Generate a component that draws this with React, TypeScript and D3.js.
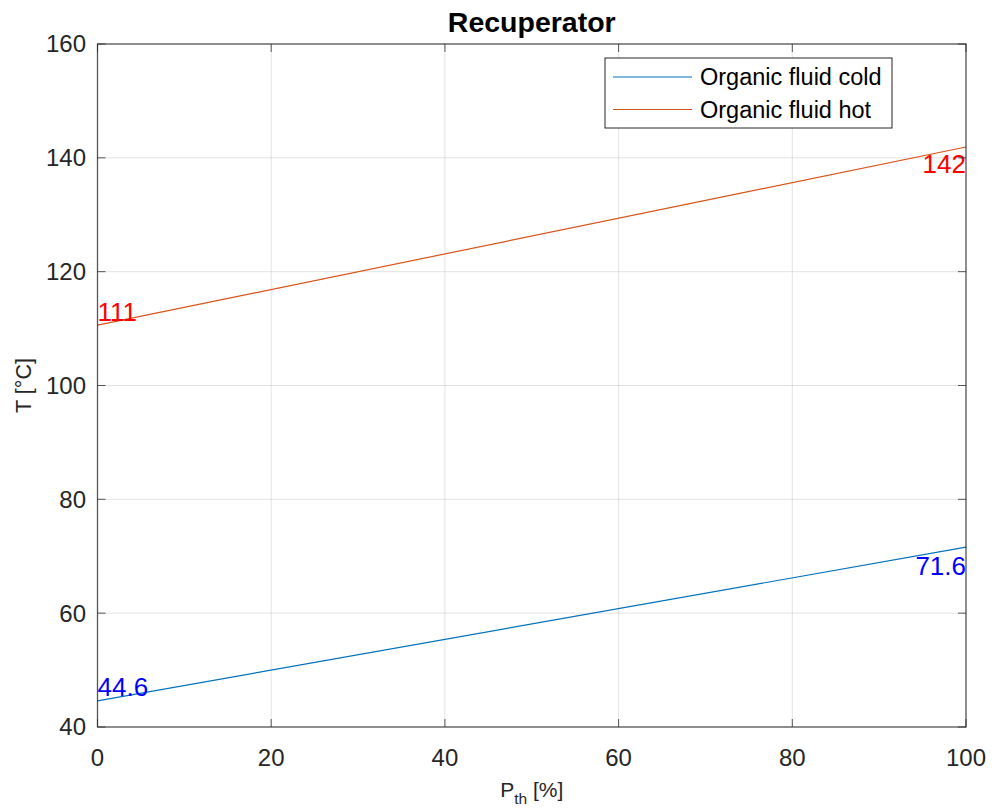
import React from "react";
import * as d3 from "d3";

const xValues = [0, 100];
const coldValues = [44.6, 71.6];
const hotValues = [110.6, 141.9];
const coldLabels = ["44.6", "71.6"];
const hotLabels = ["111", "142"];
const coldLabelY = [47.1, 68.3];
const hotLabelY = [112.9, 138.9];
const xTicks = [0, 20, 40, 60, 80, 100];
const yTicks = [40, 60, 80, 100, 120, 140, 160];
const seriesNames = ["Organic fluid cold", "Organic fluid hot"];

const W = 995, H = 811;
const L = 97.5, R = 966, T = 44, B = 727;
const FONT = "Arial, 'Liberation Sans', Helvetica, sans-serif";
const COLD = "#0072BD", HOT = "#D95319";
const AX = "#262626";

export default function App() {
  const x = d3.scaleLinear().domain([0, 100]).range([L, R]);
  const y = d3.scaleLinear().domain([40, 160]).range([B, T]);
  const line = d3.line<number>().x((_, i) => x(xValues[i])).y((d) => y(d));
  const tick = 8;
  return (
    <svg width={W} height={H} style={{ position: "absolute", left: 0, top: 0, background: "#fff" }}>
      <rect x={0} y={0} width={W} height={H} fill="#fff" />
      {/* grid */}
      {xTicks.map((t) => (
        <line key={"gx" + t} x1={x(t)} x2={x(t)} y1={T} y2={B} stroke="#262626" strokeOpacity={0.13} strokeWidth={1} />
      ))}
      {yTicks.map((t) => (
        <line key={"gy" + t} x1={L} x2={R} y1={y(t)} y2={y(t)} stroke="#262626" strokeOpacity={0.13} strokeWidth={1} />
      ))}
      {/* lines */}
      <path d={line(coldValues) || ""} fill="none" stroke={COLD} strokeWidth={1.2} />
      <path d={line(hotValues) || ""} fill="none" stroke={HOT} strokeWidth={1.2} />
      {/* data labels */}
      <g fontFamily={FONT} fontSize={26} dominantBaseline="central">
        <text x={x(xValues[0])} y={y(coldLabelY[0])} fill="#0000ff" textAnchor="start">{coldLabels[0]}</text>
        <text x={x(xValues[1])} y={y(coldLabelY[1])} fill="#0000ff" textAnchor="end">{coldLabels[1]}</text>
        <text x={x(xValues[0])} y={y(hotLabelY[0])} fill="#ff0000" textAnchor="start">{hotLabels[0]}</text>
        <text x={x(xValues[1])} y={y(hotLabelY[1])} fill="#ff0000" textAnchor="end">{hotLabels[1]}</text>
      </g>
      {/* ticks */}
      {xTicks.map((t) => (
        <g key={"tx" + t}>
          <line x1={x(t)} x2={x(t)} y1={B} y2={B - tick} stroke={AX} strokeOpacity={0.75} />
          <line x1={x(t)} x2={x(t)} y1={T} y2={T + tick} stroke={AX} strokeOpacity={0.75} />
          <text x={x(t)} y={766} textAnchor="middle" fontFamily={FONT} fontSize={24} fill={AX}>{t}</text>
        </g>
      ))}
      {yTicks.map((t) => (
        <g key={"ty" + t}>
          <line x1={L} x2={L + tick} y1={y(t)} y2={y(t)} stroke={AX} strokeOpacity={0.75} />
          <line x1={R} x2={R - tick} y1={y(t)} y2={y(t)} stroke={AX} strokeOpacity={0.75} />
          <text x={86} y={y(t)} dy="0.35em" textAnchor="end" fontFamily={FONT} fontSize={24} fill={AX}>{t}</text>
        </g>
      ))}
      {/* box */}
      <rect x={L} y={T} width={R - L} height={B - T} fill="none" stroke={AX} strokeOpacity={0.75} strokeWidth={1.3} />
      {/* title */}
      <text x={(L + R) / 2} y={32} textAnchor="middle" fontFamily={FONT} fontSize={28.5} fontWeight="bold" fill="#000">Recuperator</text>
      {/* axis labels */}
      <text transform={`translate(31, ${(T + B) / 2}) rotate(-90)`} textAnchor="middle" fontFamily={FONT} fontSize={21.5} fill={AX}>T [°C]</text>
      <text x={(L + R) / 2} y={797} textAnchor="middle" fontFamily={FONT} fontSize={21} fill={AX}>
        P<tspan fontSize={15.5} dy={7}>th</tspan><tspan dy={-7}> [%]</tspan>
      </text>
      {/* legend */}
      <g fontFamily={FONT} fontSize={23.5} fill="#000">
        <rect x={605} y={58} width={287} height={70} fill="#fff" stroke={AX} strokeWidth={1} />
        {seriesNames.map((n, i) => (
          <g key={n}>
            <line x1={613} x2={692} y1={77 + i * 32.5} y2={77 + i * 32.5} stroke={i === 0 ? COLD : HOT} strokeWidth={1.2} />
            <text x={700} y={77 + i * 32.5} dy="0.35em" fill="#000">{n}</text>
          </g>
        ))}
      </g>
    </svg>
  );
}
